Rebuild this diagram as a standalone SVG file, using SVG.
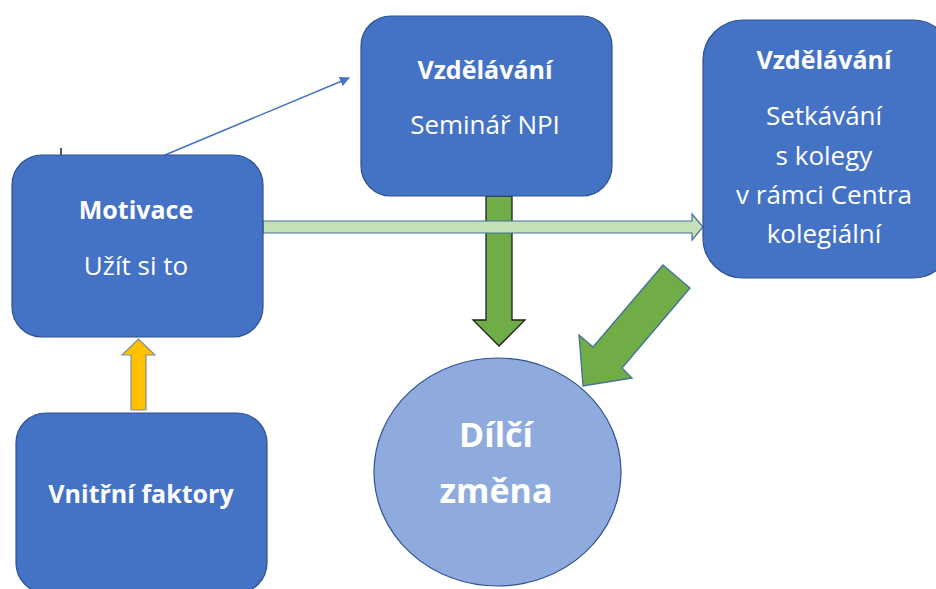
<svg xmlns="http://www.w3.org/2000/svg" width="936" height="589" viewBox="0 0 936 589">
<style>
.box{fill:#4472c4;stroke:#2f528f;stroke-width:1.2}
.t{font-family:"Open Sans","Noto Sans","DejaVu Sans",sans-serif;fill:#fff;text-anchor:middle}
.b{font-weight:bold;font-size:25px}
.r{font-size:26px}
</style>
<defs>
<marker id="ah" viewBox="0 0 10 10" refX="9" refY="5" markerWidth="10" markerHeight="10" markerUnits="userSpaceOnUse" orient="auto">
<path d="M0,0 L10,5 L0,10 z" fill="#4472c4"/>
</marker>
</defs>
<rect width="936" height="589" fill="#fff"/>

<g id="connectors">
<line x1="165" y1="155" x2="349" y2="78" stroke="#4472c4" stroke-width="1.5" marker-end="url(#ah)"/>
<line x1="61" y1="148" x2="61" y2="174" stroke="#8a6a3a" stroke-width="1.2"/>
<line x1="61" y1="148" x2="61" y2="158" stroke="#222" stroke-width="1.2"/>
<polygon points="486,196 512,196 512,320 525,320 499,346 473,320 486,320" fill="#70ad47" stroke="#1f1f1f" stroke-width="1.3"/>
<polygon points="263,221 692,221 692,214 703,227 692,240 692,233 263,233" fill="#c5e0b4" stroke="#41719c" stroke-width="1.2"/>
<polygon points="663,265 690,288 622,368 632,378 583,386 579,335 593,347" fill="#70ad47" stroke="#41719c" stroke-width="1.3"/>
<polygon points="131,410 146,410 146,355 155,355 138.5,339 122,355 131,355" fill="#ffc000" stroke="#7f8fa6" stroke-width="1.2"/>
</g>

<g id="motivace">
<rect class="box" x="12" y="155" width="251" height="182" rx="30"/>
<text class="t b" x="136" y="219">Motivace</text>
<text class="t r" x="136" y="275">Užít si to</text>
</g>

<g id="seminar">
<rect class="box" x="361" y="16" width="251" height="180" rx="30"/>
<text class="t b" x="485" y="79">Vzdělávání</text>
<text class="t r" x="485" y="134">Seminář NPI</text>
</g>

<g id="setkavani">
<rect class="box" x="703" y="20" width="250" height="258" rx="40"/>
<text class="t b" x="824" y="69">Vzdělávání</text>
<text class="t r" x="824" y="125">Setkávání</text>
<text class="t r" x="824" y="165">s kolegy</text>
<text class="t r" x="824" y="204">v rámci Centra</text>
<text class="t r" x="824" y="243">kolegiální</text>
</g>

<g id="vnitrni">
<rect class="box" x="16" y="413" width="251" height="180" rx="30"/>
<text class="t b" x="141" y="503">Vnitřní faktory</text>
</g>

<g id="dilci">
<ellipse cx="497.5" cy="472" rx="123.5" ry="114" fill="#8faadc" stroke="#2f528f" stroke-width="1.2"/>
<text class="t" font-weight="bold" font-size="34" x="496" y="447">Dílčí</text>
<text class="t" font-weight="bold" font-size="34" x="496" y="503">změna</text>
</g>
</svg>
